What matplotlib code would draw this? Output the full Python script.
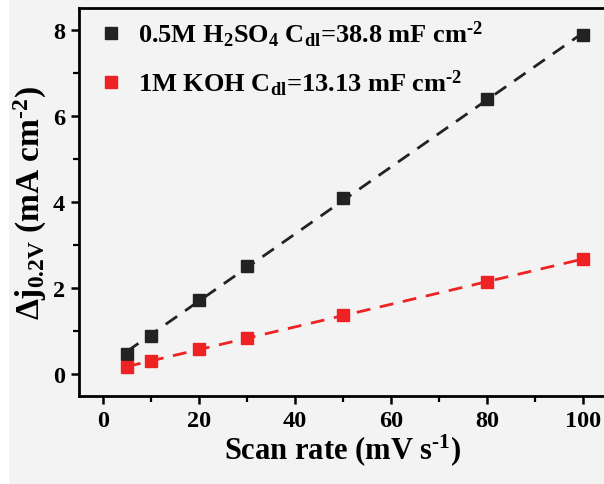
import numpy as np
import matplotlib
matplotlib.use("Agg")
import matplotlib.pyplot as plt
from matplotlib.ticker import MultipleLocator
from matplotlib.patches import Rectangle

# scan rates (mV/s) and current density differences (mA/cm2)
scan_rate = [5, 10, 20, 30, 50, 80, 100]
dj_h2so4 = [0.47, 0.90, 1.73, 2.52, 4.10, 6.38, 7.87]
dj_koh = [0.17, 0.31, 0.58, 0.85, 1.38, 2.15, 2.67]

lab_h2so4 = "0.5M H$_2$SO$_4$ C$_{dl}$=38.8 mF cm$^{\\text{-}2}$"
lab_koh = "1M KOH C$_{dl}$=13.13 mF cm$^{\\text{-}2}$"

plt.rcParams['font.family'] = 'Liberation Serif'
plt.rcParams['font.weight'] = 'bold'
plt.rcParams['axes.labelweight'] = 'bold'
plt.rcParams['mathtext.fontset'] = 'custom'
plt.rcParams['mathtext.rm'] = 'Liberation Serif:bold'
plt.rcParams['mathtext.it'] = 'Liberation Serif:bold'
plt.rcParams['mathtext.bf'] = 'Liberation Serif:bold'
plt.rcParams['mathtext.default'] = 'rm'

fig = plt.figure(figsize=(6.04, 4.85), dpi=100, facecolor='#f3f3f3')
fig.patches.append(Rectangle((0, 0), 9 / 604, 1, transform=fig.transFigure,
                             facecolor='white', edgecolor='none', zorder=-1))
ax = fig.add_axes([79 / 604, 88 / 485, 528 / 604, 388 / 485])
ax.set_facecolor('#f3f3f3')

x = np.array(scan_rate)
xf = np.linspace(5, 100, 50)
for y, c, lab in [(dj_h2so4, '#222222', lab_h2so4), (dj_koh, '#ee2222', lab_koh)]:
    k, b = np.polyfit(x, y, 1)
    ax.plot(xf, k * xf + b, color=c, lw=2, ls=(0, (5, 3.5)), zorder=2)
    ax.plot(x, y, 's', color=c, ms=9, mec=c, label=lab, zorder=3)

ax.set_xlim(-5, 105)
ax.set_ylim(-0.5, 8.5)
ax.xaxis.set_major_locator(MultipleLocator(20))
ax.xaxis.set_minor_locator(MultipleLocator(10))
ax.yaxis.set_major_locator(MultipleLocator(2))
ax.yaxis.set_minor_locator(MultipleLocator(1))
ax.tick_params(which='major', length=6, width=1.8, labelsize=17.5, pad=4)
ax.tick_params(which='minor', length=4, width=1.6)
for s in ax.spines.values():
    s.set_linewidth(2)
ax.spines['right'].set_visible(False)

ax.set_xlabel("Scan rate (mV s$^{\\text{-}1}$)", fontsize=22, labelpad=0)
ax.set_ylabel("Δj$_{0.2V}$ (mA cm$^{\\text{-}2}$)", fontsize=24, labelpad=3)

ax.legend(loc='upper left', bbox_to_anchor=(0.0, 1.012), frameon=False,
          fontsize=19, handletextpad=0.45, borderaxespad=0.2,
          labelspacing=0.7, handlelength=1.2)

fig.savefig("out.png", dpi=100, facecolor=fig.get_facecolor())
